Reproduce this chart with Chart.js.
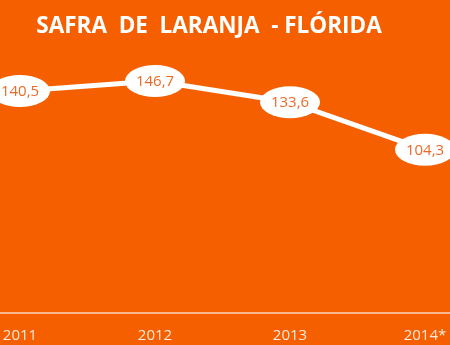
<!DOCTYPE html>
<html>
<head>
<meta charset="utf-8">
<script src="https://cdn.jsdelivr.net/npm/chart.js@4.4.1/dist/chart.umd.min.js"></script>
<style>
  html, body { margin: 0; padding: 0; background: #F65F00; }
  #wrap { width: 450px; height: 345px; position: relative; }
</style>
</head>
<body>
<div id="wrap"><canvas id="c" width="450" height="345"></canvas></div>
<script>
const titleText = "SAFRA  DE  LARANJA  - FLÓRIDA";
const categories = ["2011", "2012", "2013", "2014*"];
const values = [140.5, 146.7, 133.6, 104.3];
const valueLabels = ["140,5", "146,7", "133,6", "104,3"];

const BG = "#F65F00";

const decor = {
  id: "decor",
  beforeDraw(chart) {
    const ctx = chart.ctx;
    ctx.save();
    ctx.fillStyle = BG;
    ctx.fillRect(0, 0, chart.width, chart.height);
    ctx.fillStyle = "#FFFFFF";
    ctx.font = "bold 22.5px 'Open Sans'";
    ctx.textAlign = "center";
    ctx.textBaseline = "alphabetic";
    ctx.fillText(titleText, 209, 33);
    const y = chart.chartArea.bottom;
    ctx.strokeStyle = "rgba(255,225,205,0.9)";
    ctx.lineWidth = 1.5;
    ctx.beginPath();
    ctx.moveTo(0, y);
    ctx.lineTo(chart.width, y);
    ctx.stroke();
    ctx.restore();
  },
  afterDatasetsDraw(chart) {
    const ctx = chart.ctx;
    const meta = chart.getDatasetMeta(0);
    ctx.save();
    meta.data.forEach((pt, i) => {
      const x = pt.x, y = pt.y;
      ctx.fillStyle = "#FFFFFF";
      ctx.beginPath();
      ctx.ellipse(x, y, 30, 16, 0, 0, Math.PI * 2);
      ctx.fill();
      ctx.fillStyle = "#EC6A28";
      ctx.font = "15px 'Open Sans'";
      ctx.textAlign = "center";
      ctx.textBaseline = "middle";
      ctx.fillText(valueLabels[i], x, y + 1);
    });
    ctx.restore();
  }
};

new Chart(document.getElementById("c"), {
  type: "line",
  data: {
    labels: categories,
    datasets: [{
      data: values,
      borderColor: "#FFFFFF",
      borderWidth: 5,
      pointRadius: 0,
      tension: 0,
      fill: false
    }]
  },
  options: {
    responsive: false,
    animation: false,
    devicePixelRatio: 1,
    layout: { padding: { left: 20, right: 25, top: 0, bottom: 0 } },
    plugins: { legend: { display: false }, title: { display: false }, tooltip: { enabled: false } },
    scales: {
      x: {
        offset: false,
        grid: { display: false, drawTicks: false },
        border: { display: false },
        ticks: {
          color: "#FFE9DC",
          font: { family: "'Open Sans'", size: 15 },
          padding: 14,
          maxRotation: 0,
          autoSkip: false
        },
        afterFit(scale) {
          scale.height = 32;
          scale.paddingLeft = 0;
          scale.paddingRight = 0;
        }
      },
      y: {
        display: false,
        min: 3.5,
        max: 196.7
      }
    }
  },
  plugins: [decor]
});
</script>
</body>
</html>
